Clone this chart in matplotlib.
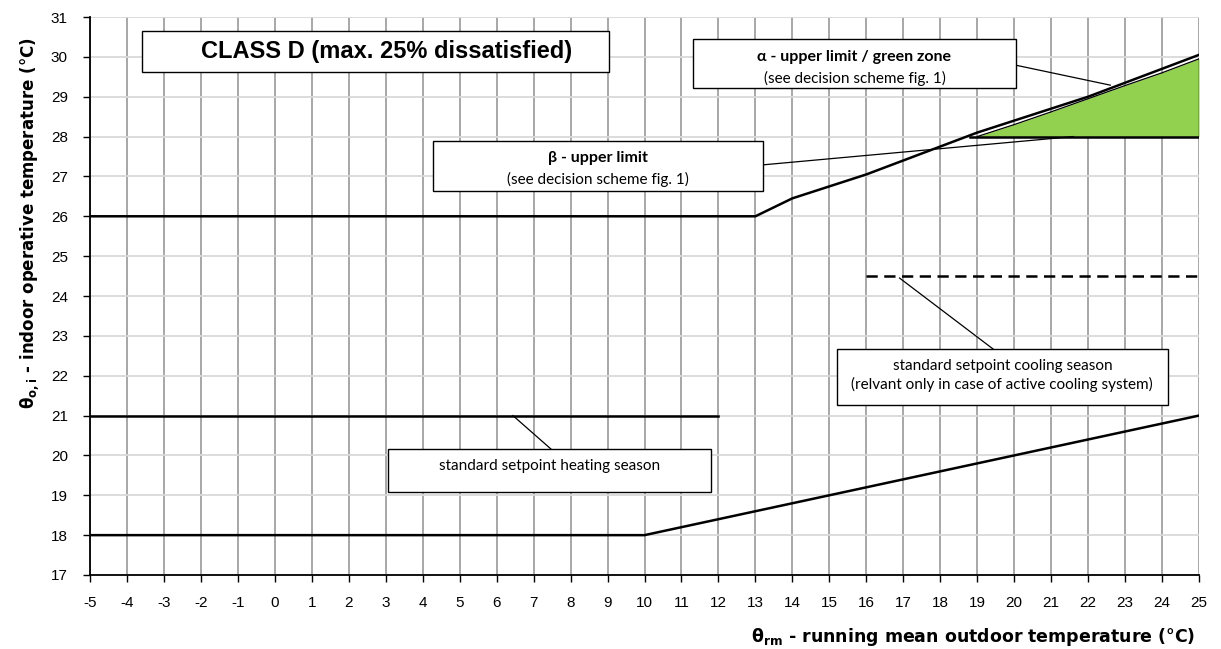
import matplotlib
matplotlib.use("Agg")
import matplotlib.pyplot as plt
from matplotlib.patches import Rectangle

plt.rcParams['font.family'] = ['Liberation Sans', 'DejaVu Sans']
plt.rcParams['axes.unicode_minus'] = False
plt.rcParams['mathtext.fontset'] = 'custom'
plt.rcParams['mathtext.rm'] = 'DejaVu Sans:bold'
plt.rcParams['mathtext.it'] = 'DejaVu Sans:bold'
plt.rcParams['mathtext.bf'] = 'DejaVu Sans:bold'

# ---------------- data ----------------
x_all = list(range(-5, 26))
lower_limit = [18.0] * 16 + [18.2, 18.4, 18.6, 18.8, 19.0, 19.2, 19.4, 19.6, 19.8, 20.0,
                             20.2, 20.4, 20.6, 20.8, 21.0]
upper_limit = [26.0] * 19 + [26.45, 26.75, 27.05, 27.4, 27.75, 28.1, 28.4, 28.7, 29.0,
                             29.35, 29.7, 30.05]
alpha_x = [19, 20, 21, 22, 23, 24, 25]
alpha_limit = [28.0, 28.3, 28.62, 28.95, 29.28, 29.6, 29.95]
beta_x = [18.8, 25]
beta_limit = [28.0, 28.0]
heating_x = [-5, 12]
heating_setpoint = [21.0, 21.0]
cooling_x = [16, 25]
cooling_setpoint = [24.5, 24.5]

x_ticks = list(range(-5, 26))
y_ticks = list(range(17, 32))

title_text = "CLASS D (max. 25% dissatisfied)"
alpha_title = "α - upper limit / green zone"
beta_title = "β - upper limit"
scheme_note = "(see decision scheme fig. 1)"
cooling_line1 = "standard setpoint cooling season"
cooling_line2 = "(relvant only in case of active cooling system)"
heating_text = "standard setpoint heating season"

# ---------------- figure ----------------
W, H = 1221, 649
fig = plt.figure(figsize=(W / 100, H / 100), dpi=100)
ax = fig.add_axes([90 / W, 74 / H, 1109 / W, 558 / H])
ax.set_xlim(-5, 25)
ax.set_ylim(17, 31)
ax.set_xticks(x_ticks)
ax.set_yticks(y_ticks)
ax.set_axisbelow(True)
ax.xaxis.grid(True, color='#a0a0a0', lw=1.3)
ax.yaxis.grid(True, color='#d9d9d9', lw=1.3)
for s in ['top', 'right']:
    ax.spines[s].set_visible(False)
for s in ['left', 'bottom']:
    ax.spines[s].set_linewidth(1.3)
    ax.spines[s].set_color('black')
ax.tick_params(axis='x', length=5, width=1, pad=10, labelsize=11)
ax.tick_params(axis='y', length=5, width=1, pad=11, labelsize=11)

LW = 1.8
# green zone
ax.fill_between(alpha_x, beta_limit[0], alpha_limit, color='#92D050', zorder=2, lw=0)
ax.plot(alpha_x, alpha_limit, color='black', lw=0.9, zorder=3)
ax.plot([alpha_x[-1], alpha_x[-1]], [beta_limit[0], alpha_limit[-1]], color='black', lw=1.0, zorder=3)
ax.plot(beta_x, beta_limit, color='black', lw=LW, zorder=3)

ax.plot(x_all, lower_limit, color='black', lw=LW, zorder=3)
ax.plot(x_all, upper_limit, color='black', lw=LW, zorder=3)
ax.plot(heating_x, heating_setpoint, color='black', lw=LW, zorder=3)
ax.plot(cooling_x, cooling_setpoint, color='black', lw=LW, zorder=3, dashes=(4.5, 2.6))


def box(x0, x1, y0, y1):
    ax.add_patch(Rectangle((x0, y0), x1 - x0, y1 - y0, facecolor='white',
                           edgecolor='black', lw=1.0, zorder=5))


def leader(p0, p1):
    ax.plot([p0[0], p1[0]], [p0[1], p1[1]], color='black', lw=0.9, zorder=4)


calib = ['Lato', 'DejaVu Sans']
FS = 11
FSB = 11.5

# title box
box(-3.59, 9.04, 29.62, 30.65)
ax.text((-3.59 + 9.04) / 2 + 0.3, (29.62 + 30.65) / 2, title_text, ha='center', va='center',
        fontsize=17, fontweight='bold', zorder=6)

# alpha box
leader((20.05, 29.79), (22.6, 29.29))
box(11.31, 20.05, 29.22, 30.45)
ax.text(15.68, 30.0, alpha_title, ha='center', va='center', fontsize=FSB,
        fontweight='bold', family=calib, zorder=6)
ax.text(15.68, 29.47, scheme_note, ha='center', va='center', fontsize=FS,
        family=calib, zorder=6)

# beta box
leader((13.2, 27.29), (21.6, 28.0))
box(4.28, 13.20, 26.63, 27.89)
ax.text(8.74, 27.46, beta_title, ha='center', va='center', fontsize=FSB,
        fontweight='bold', family=calib, zorder=6)
ax.text(8.74, 26.93, scheme_note, ha='center', va='center', fontsize=FS,
        family=calib, zorder=6)

# cooling box
leader((16.9, 24.45), (19.43, 22.67))
box(15.21, 24.16, 21.26, 22.67)
ax.text(19.68, 22.24, cooling_line1, ha='center', va='center', fontsize=FS,
        family=calib, zorder=6)
ax.text(19.68, 21.77, cooling_line2, ha='center', va='center', fontsize=FS,
        family=calib, zorder=6)

# heating box
leader((6.44, 21.0), (7.47, 20.16))
box(3.06, 11.80, 19.08, 20.16)
ax.text(7.43, 19.73, heating_text, ha='center', va='center', fontsize=FS,
        family=calib, zorder=6)

# axis labels
fig.text(30 / W, 1 - 223 / H, 'θ$_{\\mathrm{o,i}}$ - indoor operative temperature (°C)',
         rotation=90, ha='center', va='center', fontsize=12, fontweight='bold',
         family=['DejaVu Sans'])
fig.text(1195 / W, 1 - 637 / H, 'θ$_{\\mathrm{rm}}$ - running mean outdoor temperature (°C)',
         ha='right', va='center', fontsize=12.5, fontweight='bold',
         family=['DejaVu Sans'])

fig.savefig('out.png', dpi=100)
